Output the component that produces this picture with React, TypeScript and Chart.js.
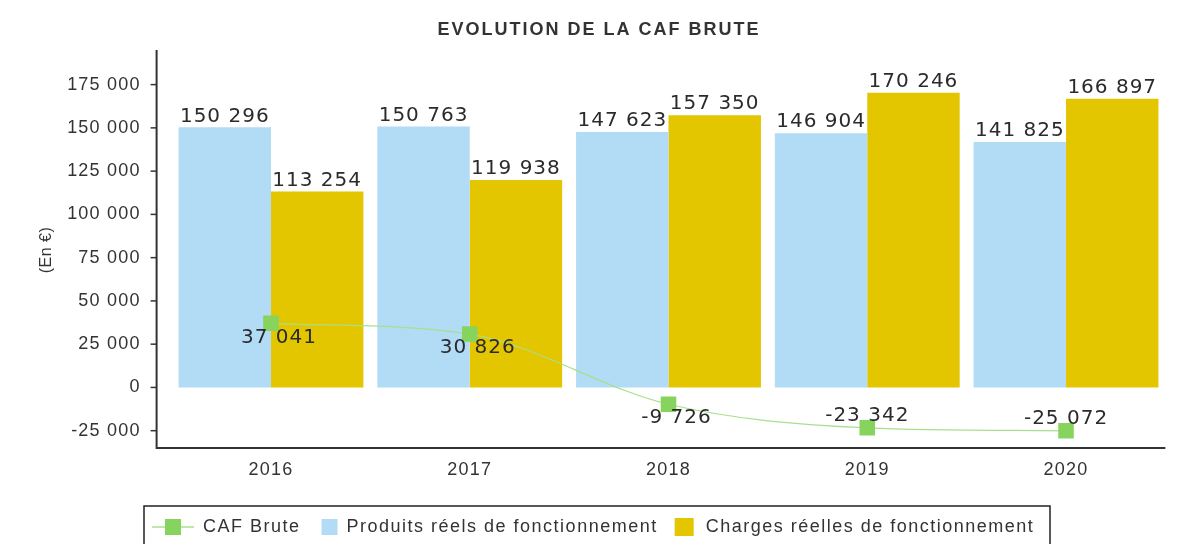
import React, { useEffect, useRef } from "react";
import { Chart, registerables } from "chart.js";

Chart.register(...registerables);

const TITLE = "EVOLUTION DE LA CAF BRUTE";
const Y_TITLE = "(En €)";
const years = ["2016", "2017", "2018", "2019", "2020"];
const cafBrute = [37041, 30826, -9726, -23342, -25072];
const produits = [150296, 150763, 147623, 146904, 141825];
const charges = [113254, 119938, 157350, 170246, 166897];
const seriesNames = [
  "CAF Brute",
  "Produits réels de fonctionnement",
  "Charges réelles de fonctionnement",
];
const yTicks = [-25000, 0, 25000, 50000, 75000, 100000, 125000, 150000, 175000];

const GREEN = "#86d35e";
const GREEN_LINE = "#a8df8c";
const BLUE = "#b2dbf6";
const YELLOW = "#e3c600";
const TEXT = "#333333";
const AXIS_FONT = "'Liberation Sans', Arial, sans-serif";
const LABEL_FONT = "'DejaVu Sans', sans-serif";

const fmt = (v: number) => {
  const s = Math.abs(Math.round(v))
    .toString()
    .replace(/\B(?=(\d{3})+(?!\d))/g, " ");
  return (v < 0 ? "-" : "") + s;
};

const decorPlugin = {
  id: "decor",
  beforeDraw(chart: any) {
    const ctx = chart.ctx;
    ctx.save();
    ctx.fillStyle = "#ffffff";
    ctx.fillRect(0, 0, chart.width, chart.height);
    ctx.restore();
    (ctx as any).letterSpacing = "1.2px";
  },
  afterDatasetsDraw(chart: any) {
    const ctx = chart.ctx;
    ctx.save();
    ctx.font = `20px ${LABEL_FONT}`;
    (ctx as any).letterSpacing = "1px";
    ctx.fillStyle = "#2b2b2b";
    ctx.textAlign = "center";
    ctx.textBaseline = "middle";
    // bar labels
    [1, 2].forEach((di) => {
      const meta = chart.getDatasetMeta(di);
      const data = chart.data.datasets[di].data as number[];
      meta.data.forEach((el: any, i: number) => {
        ctx.fillText(fmt(data[i]), el.x, el.y - 11);
      });
    });
    // line labels
    const lm = chart.getDatasetMeta(0);
    const ld = chart.data.datasets[0].data as number[];
    lm.data.forEach((el: any, i: number) => {
      const v = ld[i];
      if (v > -15000) ctx.fillText(fmt(v), el.x + 8, el.y + 14);
      else ctx.fillText(fmt(v), el.x, el.y - 12);
    });
    ctx.restore();
  },
  afterDraw(chart: any) {
    const ctx = chart.ctx;
    const ca = chart.chartArea;
    const ys = chart.scales.y;
    ctx.save();
    (ctx as any).letterSpacing = "0px";
    // axes
    const ax = ca.left - 15;
    ctx.strokeStyle = "#333";
    ctx.lineWidth = 2;
    ctx.beginPath();
    ctx.moveTo(ax, ca.top);
    ctx.lineTo(ax, ca.bottom);
    ctx.lineTo(ca.right, ca.bottom);
    ctx.stroke();
    ctx.lineWidth = 1.5;
    yTicks.forEach((v) => {
      const y = ys.getPixelForValue(v);
      ctx.beginPath();
      ctx.moveTo(ax - 6, y);
      ctx.lineTo(ax, y);
      ctx.stroke();
    });

    // title
    ctx.fillStyle = TEXT;
    ctx.font = `bold 18px ${AXIS_FONT}`;
    (ctx as any).letterSpacing = "2px";
    ctx.textAlign = "center";
    ctx.textBaseline = "middle";
    ctx.fillText(TITLE, 599, 30);

    // y title
    ctx.save();
    ctx.translate(47, 250);
    ctx.rotate(-Math.PI / 2);
    ctx.font = `16px ${AXIS_FONT}`;
    (ctx as any).letterSpacing = "0.5px";
    ctx.fillText(Y_TITLE, 0, 0);
    ctx.restore();

    // legend
    const cy = 527;
    ctx.strokeStyle = "#222";
    ctx.lineWidth = 1.5;
    ctx.strokeRect(144, 506, 906, 60);
    ctx.font = `18px ${AXIS_FONT}`;
    (ctx as any).letterSpacing = "1.5px";
    ctx.textAlign = "left";
    ctx.textBaseline = "middle";
    let x = 152;
    // CAF marker
    ctx.strokeStyle = GREEN_LINE;
    ctx.lineWidth = 1.5;
    ctx.beginPath();
    ctx.moveTo(x, cy);
    ctx.lineTo(x + 42, cy);
    ctx.stroke();
    ctx.fillStyle = GREEN;
    ctx.fillRect(x + 13, cy - 8, 16, 16);
    x += 51;
    ctx.fillStyle = TEXT;
    ctx.fillText(seriesNames[0], x, cy);
    x += ctx.measureText(seriesNames[0]).width + 21;
    ctx.fillStyle = BLUE;
    ctx.fillRect(x, cy - 8, 16, 16);
    x += 25;
    ctx.fillStyle = TEXT;
    ctx.fillText(seriesNames[1], x, cy);
    x += ctx.measureText(seriesNames[1]).width + 17;
    ctx.fillStyle = YELLOW;
    ctx.fillRect(x, cy - 9, 19, 18);
    x += 31;
    ctx.fillStyle = TEXT;
    ctx.fillText(seriesNames[2], x, cy);
    ctx.restore();
  },
};

export default function App() {
  const ref = useRef<HTMLCanvasElement | null>(null);
  useEffect(() => {
    document.body.style.margin = "0";
    const canvas = ref.current;
    if (!canvas) return;
    const chart = new Chart(canvas, {
      type: "bar",
      data: {
        labels: years,
        datasets: [
          {
            type: "line",
            label: seriesNames[0],
            data: cafBrute,
            borderColor: GREEN_LINE,
            borderWidth: 1.2,
            pointStyle: "rect",
            pointRadius: 11,
            pointBackgroundColor: GREEN,
            pointBorderWidth: 0,
            pointBorderColor: GREEN,
            cubicInterpolationMode: "monotone",
            order: 0,
          } as any,
          {
            type: "bar",
            label: seriesNames[1],
            data: produits,
            backgroundColor: BLUE,
            categoryPercentage: 0.93,
            barPercentage: 1,
            order: 1,
          },
          {
            type: "bar",
            label: seriesNames[2],
            data: charges,
            backgroundColor: YELLOW,
            categoryPercentage: 0.93,
            barPercentage: 1,
            order: 1,
          },
        ],
      },
      options: {
        responsive: false,
        animation: false,
        devicePixelRatio: 1,
        layout: { padding: { top: 50, right: 19.6, left: 0, bottom: 0 } },
        plugins: {
          legend: { display: false },
          title: { display: false },
          tooltip: { enabled: false },
        },
        scales: {
          x: {
            offset: true,
            grid: { display: false, drawTicks: false },
            border: { display: false },
            ticks: {
              font: { family: AXIS_FONT, size: 18 },
              color: TEXT,
              padding: 11,
            },
            afterFit: (s: any) => {
              s.height = 96;
            },
          },
          y: {
            min: -35000,
            max: 195000,
            grid: { display: false, drawTicks: false },
            border: { display: false },
            afterBuildTicks: (s: any) => {
              s.ticks = yTicks.map((v) => ({ value: v }));
            },
            ticks: {
              font: { family: AXIS_FONT, size: 18 },
              color: TEXT,
              padding: 31,
              callback: (v: any) => fmt(Number(v)),
            },
            afterFit: (s: any) => {
              s.width = 171.6;
            },
          },
        },
      } as any,
      plugins: [decorPlugin],
    });
    return () => chart.destroy();
  }, []);
  return (
    <div style={{ width: 1185, height: 544, position: "relative" }}>
      <canvas ref={ref} width={1185} height={544} style={{ display: "block" }} />
    </div>
  );
}
